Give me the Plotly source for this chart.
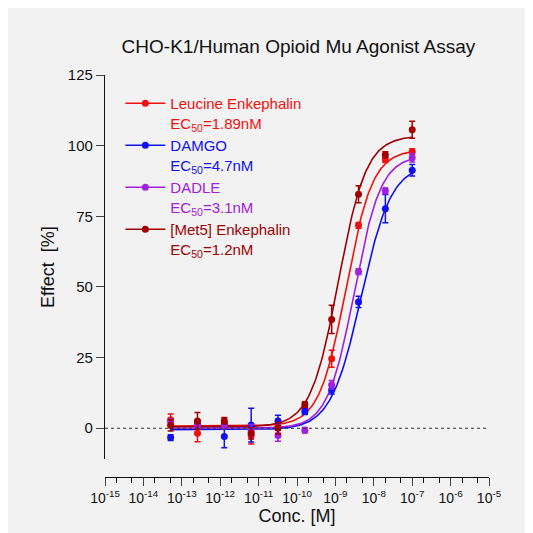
import numpy as np
import plotly.graph_objects as go

conc = [5.12e-14, 2.56e-13, 1.28e-12, 6.4e-12, 3.2e-11, 1.6e-10, 8e-10, 4e-9, 2e-8, 1e-7]

names = ["Leucine Enkephalin", "DAMGO", "DADLE", "[Met5] Enkephalin"]
ec50_labels = ["1.89nM", "4.7nM", "3.1nM", "1.2nM"]
colors = ["#f01010", "#1010f0", "#a020e0", "#a00000"]

leu = [3.0, -1.8, 1.8, -2.6, 0.7, 7.0, 24.6, 71.8, 95.0, 97.9]
damgo = [-3.3, 1.8, -2.9, 1.1, 2.6, 5.9, 13.6, 44.7, 77.7, 91.3]
dadle = [2.2, 1.0, 1.0, -0.7, -2.6, -0.7, 15.4, 55.4, 84.0, 95.7]
met5 = [1.0, 2.6, 2.6, -1.8, 0.0, 8.4, 38.5, 82.8, 96.8, 105.6]

leu_err = [2.0, 3.0, 2.0, 3.0, 2.5, 2.0, 3.0, 1.0, 1.0, 1.0]
damgo_err = [1.0, 1.0, 4.0, 6.0, 2.0, 1.0, 1.5, 2.0, 5.0, 2.0]
dadle_err = [1.0, 1.0, 1.0, 2.0, 2.0, 1.0, 1.5, 1.0, 1.0, 1.5]
met5_err = [2.0, 3.0, 1.0, 2.0, 2.0, 1.0, 5.0, 3.0, 1.0, 3.0]

# fitted 4PL parameters
tops = [98.5, 93.5, 96.5, 103.5]
bottoms = [0.8, -0.5, 0.0, 0.5]
ec50s = [1.89e-9, 4.7e-9, 3.1e-9, 1.2e-9]
hills = [1.25, 1.1, 1.25, 1.2]

series = [leu, damgo, dadle, met5]
errs = [leu_err, damgo_err, dadle_err, met5_err]

fig = go.Figure()
xs = np.logspace(-13.3, -7, 300)
for i in range(4):
    fit = bottoms[i] + (tops[i] - bottoms[i]) / (1 + (ec50s[i] / xs) ** hills[i])
    fig.add_trace(go.Scatter(x=xs, y=fit, mode="lines", line=dict(color=colors[i], width=1.6),
                             showlegend=False, hoverinfo="skip"))
for i in range(4):
    fig.add_trace(go.Scatter(
        x=conc, y=series[i], mode="markers", showlegend=False,
        marker=dict(color=colors[i], size=7),
        error_y=dict(type="data", array=errs[i], color=colors[i], thickness=1.5, width=3),
    ))
    # legend entry (line + marker)
    label = (f"<span style='color:{colors[i]}'>{names[i]}<br>"
             f"EC<sub>50</sub>={ec50_labels[i]}</span>")
    fig.add_trace(go.Scatter(x=[None], y=[None], mode="lines+markers", name=label,
                             line=dict(color=colors[i], width=1.6),
                             marker=dict(color=colors[i], size=7)))

fig.add_shape(type="line", xref="paper", yref="y", x0=0, x1=1, y0=0, y1=0,
              line=dict(color="#333", width=1.2, dash="dot"))

tickvals = [10.0 ** k for k in range(-15, -4)]
ticktext = [f"10<sup>{k}</sup>" for k in range(-15, -4)]

fig.update_layout(
    width=533, height=533,
    paper_bgcolor="#f2f2f2", plot_bgcolor="#f2f2f2",
    font=dict(family="Liberation Sans, Arial", size=15, color="#111"),
    margin=dict(l=97, r=52, t=67, b=64),
    title=dict(text="CHO-K1/Human Opioid Mu Agonist Assay", x=0.545, xanchor="center",
               y=0.94, font=dict(size=19)),
    legend=dict(x=0.04, y=0.97, xanchor="left", yanchor="top", bgcolor="rgba(0,0,0,0)",
                font=dict(size=15), tracegroupgap=20, valign="top", itemwidth=40),
    xaxis=dict(type="log", range=[-15, -5], tickvals=tickvals, ticktext=ticktext,
               ticks="outside", ticklen=8, tickwidth=1.2, showline=True, linecolor="#111",
               linewidth=1.2, showgrid=False, zeroline=False, anchor="free", position=0,
               minor=dict(ticks="outside", ticklen=5, tickwidth=1, tickcolor="#111"),
               title=dict(text="Conc. [M]", standoff=2), tickfont=dict(size=14)),
    yaxis=dict(range=[-11, 125], tickvals=[0, 25, 50, 75, 100, 125], ticks="outside",
               ticklen=8, tickwidth=1.2, showline=True, linecolor="#111", linewidth=1.2,
               showgrid=False, zeroline=False, domain=[0.044, 1],
               title=dict(text="Effect  [%]", standoff=8)),
)

fig.write_html("out.html")
